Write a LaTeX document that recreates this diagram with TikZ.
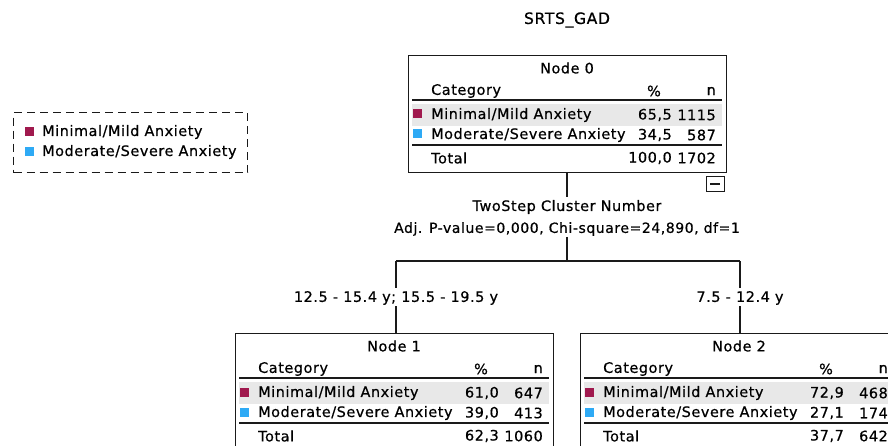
\documentclass[tikz,border=0pt]{standalone}
\usepackage{fontspec}
\setmainfont{DejaVu Sans}[LetterSpace=4,FakeBold=0.6]
\definecolor{catA}{HTML}{A0194E}
\definecolor{catB}{HTML}{2EAAF5}
\definecolor{band}{HTML}{E8E8E8}
\definecolor{edge}{HTML}{1A1A1A}
\tikzset{
  txt/.style={inner sep=0pt, font=\fontsize{14.4}{16}\selectfont, text=black},
  boxframe/.style={draw=edge, line width=1.3pt, anchor=north west, minimum width=318pt, minimum height=117pt, inner sep=0pt},
  rule/.style={draw=edge, line width=1.4pt},
  conn/.style={draw=edge, line width=1.2pt},
  sq/.style={fill=#1, draw=none}
}
\newcommand{\treebox}[9]{%
  % #1 name, #2 left, #3 top, #4 title, #5 r1%, #6 r1n, #7 r2%, #8 r2n, #9 total %,n as {a}{b}
  \node[boxframe] (#1) at (#2,#3) {};
  \fill[band] (#2+4,#3+49) rectangle (#2+314,#3+71);
  \node[txt] (#1t) at (#2+159,#3+13) {#4};
  \node[txt,anchor=west] (#1c) at (#2+23,#3+36) {Category};
  \node[txt] (#1pc) at (#2+246,#3+36) {\%};
  \node[txt,anchor=east] (#1nc) at (#2+308,#3+36) {n};
  \draw[rule] (#2+4,#3+45) -- (#2+314,#3+45);
  \fill[sq=catA] (#2+5,#3+54.5) rectangle (#2+14,#3+63.5);
  \node[txt,anchor=west] (#1a) at (#2+23,#3+60) {Minimal/Mild Anxiety};
  \node[txt,anchor=east] (#1ap) at (#2+264,#3+60) {#5};
  \node[txt,anchor=east] (#1an) at (#2+308,#3+60) {#6};
  \fill[sq=catB] (#2+5,#3+74.5) rectangle (#2+14,#3+83.5);
  \node[txt,anchor=west] (#1b) at (#2+23,#3+80) {Moderate/Severe Anxiety};
  \node[txt,anchor=east] (#1bp) at (#2+264,#3+80) {#7};
  \node[txt,anchor=east] (#1bn) at (#2+308,#3+80) {#8};
  \draw[rule] (#2+4,#3+90) -- (#2+314,#3+90);
  \node[txt,anchor=west] (#1tot) at (#2+23,#3+103) {Total};
  \treetotal{#1}{#2}{#3}#9%
}
\newcommand{\treetotal}[5]{%
  \node[txt,anchor=east] (#1tp) at (#2+264,#3+103) {#4};
  \node[txt,anchor=east] (#1tn) at (#2+308,#3+103) {#5};
}
\begin{document}
\begin{tikzpicture}[x=1pt,y=-1pt]
\useasboundingbox (0,0) rectangle (888,446);
\clip (0,0) rectangle (888,446);
\fill[white] (0,0) rectangle (888,446);

\node[txt, font=\fontsize{15.6}{17}\selectfont] (title) at (567,20) {SRTS\_GAD};

% legend
\node[draw=edge, dashed, dash pattern=on 8pt off 5pt, line width=1.3pt, anchor=north west, minimum width=234pt, minimum height=60pt, inner sep=0pt] (legend) at (13,112) {};
\fill[sq=catA] (25,127.5) rectangle (34,136.5);
\node[txt,anchor=west] (lega) at (42,132) {Minimal/Mild Anxiety};
\fill[sq=catB] (25,147.5) rectangle (34,156.5);
\node[txt,anchor=west] (legb) at (42,152) {Moderate/Severe Anxiety};

% nodes
\treebox{n0}{408}{55}{Node 0}{65,5}{1115}{34,5}{587}{{100,0}{1702}}
\treebox{n1}{235}{333}{Node 1}{61,0}{647}{39,0}{413}{{62,3}{1060}}
\treebox{n2}{580}{333}{Node 2}{72,9}{468}{27,1}{174}{{37,7}{642}}

% collapse box
\node[draw=edge, line width=1.2pt, anchor=north east, minimum width=18pt, minimum height=15pt, inner sep=0pt] (minus) at (725,176) {};
\draw[edge, line width=1.2pt] ([xshift=-5pt]minus.center) -- ([xshift=5pt]minus.center);

% split labels
\node[txt] (var) at (567,207) {TwoStep Cluster Number};
\node[txt, font=\fontsize{14}{16}\selectfont] (stat) at (567,229) {Adj. P-value=0,000, Chi-square=24,890, df=1};
\coordinate (hub) at (567,261);
\coordinate (hl) at (396,261);
\coordinate (hr) at (740,261);
\node[txt] (lab1) at (396,298) {12.5 - 15.4 y; 15.5 - 19.5 y};
\node[txt] (lab2) at (740,298) {7.5 - 12.4 y};

\draw[conn] (n0.south -| hub) -- ([yshift=3pt]var.north -| hub);
\draw[conn] ([yshift=-1pt]stat.south -| hub) -- (hub);
\draw[conn] (hl) -- (hr);
\draw[conn] (hl) -- ([yshift=3pt]lab1.north -| hl);
\draw[conn] ([yshift=-1pt]lab1.south -| hl) -- (n1.north -| hl);
\draw[conn] (hr) -- ([yshift=3pt]lab2.north -| hr);
\draw[conn] ([yshift=-1pt]lab2.south -| hr) -- (n2.north -| hr);
\end{tikzpicture}
\end{document}
